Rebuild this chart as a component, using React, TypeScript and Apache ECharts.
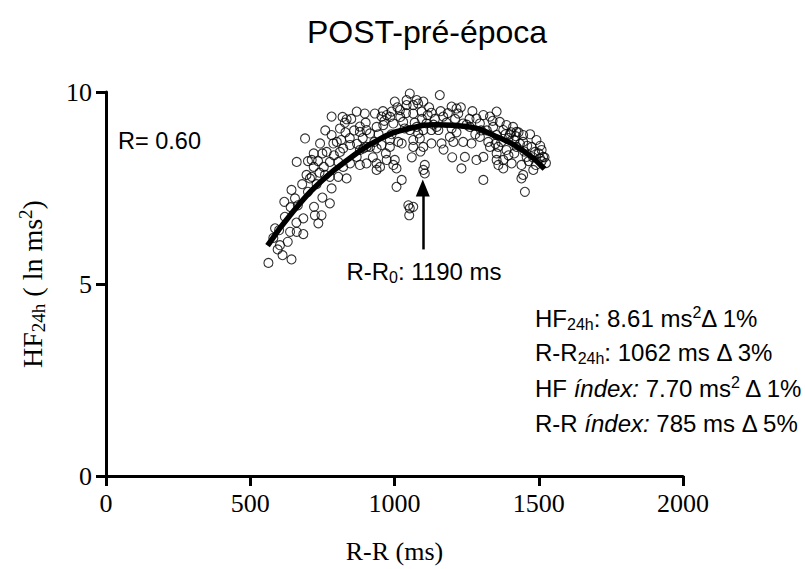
import React, { useEffect, useRef } from 'react';
import * as echarts from 'echarts';

const titleText = 'POST-pré-época';
const xTickValues = [0, 500, 1000, 1500, 2000];
const yTickValues = [0, 5, 10];

// Scatter points: [R-R (ms), HF24h (ln ms²)]
const scatterPoints: number[][] = [
  [563, 5.55], [603, 6.01], [612, 5.75], [643, 5.64], [586, 6.45], [638, 6.36], [661, 6.36], [684, 6.3],
  [684, 6.71], [643, 7.45], [655, 7.23], [618, 7.14], [721, 7.01], [724, 6.79], [736, 6.58], [747, 6.79],
  [776, 7.1], [707, 7.75], [695, 7.84], [713, 7.79], [661, 8.18], [713, 8.23], [690, 8.79], [742, 8.66],
  [782, 8.88], [834, 9.29], [782, 9.36], [828, 9.2], [811, 9.05], [788, 8.66], [765, 8.44], [776, 8.18],
  [805, 8.18], [822, 8.05], [834, 7.75], [782, 7.49], [776, 7.79], [805, 7.79], [759, 7.84], [846, 8.14],
  [869, 8.31], [880, 8.49], [903, 8.57], [880, 8.1], [903, 8.14], [938, 8.14], [938, 7.97], [973, 8.23],
  [1001, 8.23], [1007, 8.01], [996, 8.1], [869, 9.49], [897, 9.44], [932, 9.44], [955, 9.36], [973, 9.4],
  [990, 9.49], [1019, 9.53], [1001, 9.75], [1042, 9.79], [1053, 9.96], [1065, 9.66], [1082, 9.7], [1100, 9.75],
  [1094, 9.49], [1128, 9.46], [1157, 9.92], [1030, 9.22], [996, 9.18], [961, 9.14], [938, 9.09], [903, 9.01],
  [880, 8.96], [915, 8.92], [984, 8.75], [1013, 8.7], [1025, 8.66], [984, 8.57], [955, 8.62], [938, 8.53],
  [915, 8.57], [892, 8.53], [846, 8.62], [822, 8.53], [811, 8.44], [1065, 8.75], [1065, 8.57], [1088, 8.79],
  [1082, 8.92], [1100, 9.01], [1128, 9.01], [1146, 9.09], [1100, 8.57], [1128, 8.66], [1163, 8.66], [1204, 8.7],
  [1238, 8.7], [1267, 8.66], [1192, 8.83], [1152, 9.01], [1198, 9.62], [1215, 9.57], [1221, 9.44], [1238, 9.18],
  [1261, 9.09], [1284, 9.31], [1296, 9.18], [1331, 9.36], [1354, 9.49], [1365, 9.22], [1388, 9.14], [1411, 9.09],
  [1423, 8.96], [1446, 8.88], [1446, 8.7], [1475, 8.57], [1492, 8.75], [1510, 8.49], [1515, 8.31], [1481, 7.97],
  [1446, 7.84], [1440, 7.75], [1452, 7.4], [1377, 8.01], [1377, 8.23], [1406, 8.14], [1354, 8.23], [1354, 8.4],
  [1308, 8.31], [1331, 8.57], [1296, 8.83], [1354, 8.88], [1308, 7.71], [1244, 8.31], [1232, 8.01], [1100, 7.97],
  [1105, 8.1], [1105, 7.88], [1007, 7.53], [1025, 7.71], [1048, 7.05], [1053, 6.97], [1065, 7.01], [1051, 6.79],
  [1065, 9.44], [1042, 9.66], [1077, 9.79], [1111, 9.18], [1169, 9.36], [1053, 9.01], [1077, 9.09], [1377, 9.01],
  [1342, 9.09], [1325, 8.7], [1423, 8.57], [1458, 8.31], [1487, 8.44], [1504, 8.27], [1284, 8.23], [1359, 8.57],
  [1388, 8.49], [1308, 9.4], [1198, 9.05], [1400, 8.9], [1415, 8.75], [1430, 8.95], [1395, 8.8], [1460, 8.6],
  [1500, 8.4], [1510, 8.2], [1480, 8.3], [960, 9.5], [1010, 9.6], [1040, 9.45], [880, 9.1], [850, 9.3],
  [900, 9.2], [760, 9.0], [800, 8.7], [830, 8.95], [750, 8.4], [700, 8.2], [720, 8.05], [740, 7.9],
  [680, 7.6], [640, 7.0], [620, 6.75], [600, 6.4], [595, 5.9], [580, 6.2], [1120, 9.6], [1140, 9.3],
  [1180, 9.2], [1230, 9.6], [1260, 9.3], [1280, 8.9], [1320, 9.0], [1350, 8.65], [1360, 8.1], [1440, 8.1],
  [1170, 8.5], [1200, 8.3], [1060, 8.3], [1090, 8.45], [970, 8.4], [930, 8.7], [1520, 8.3], [1470, 8.9],
  [820, 9.35], [860, 9.0], [890, 8.8], [945, 8.9], [965, 9.25], [985, 9.35], [1020, 9.35], [1035, 9.05],
  [1070, 9.2], [1095, 9.3], [1115, 9.4], [1135, 9.15], [1160, 9.5], [1185, 9.45], [1210, 9.3], [1250, 9.15],
  [1270, 9.5], [1300, 9.0], [1340, 9.25], [1370, 8.7], [1385, 8.9], [1405, 8.95], [1420, 8.85], [1435, 8.65],
  [1450, 8.45], [1465, 8.2], [1490, 8.1], [1505, 8.6], [1525, 8.15], [1395, 8.35], [1415, 8.4], [720, 8.4],
  [735, 8.2], [755, 8.05], [790, 8.35], [815, 8.75], [845, 8.8], [870, 8.65], [925, 8.3], [950, 8.05],
  [665, 7.05], [700, 7.4], [730, 7.6], [750, 7.25], [630, 6.1], [660, 6.6], [990, 8.9], [1215, 8.95],
];

// Fitted curve
const fitRR = [560, 650, 750, 850, 950, 1050, 1150, 1250, 1350, 1450, 1520];
const fitHF = [6.0, 6.9, 7.7, 8.3, 8.78, 9.05, 9.15, 9.1, 8.85, 8.45, 8.0];

// Arrow marking R-R0
const arrowRR = 1098;
const arrowFromHF = 5.9;
const arrowToHF = 7.5;

const annotationLines = [
  '{b|HF}{s|24h}{b|: 8.61 ms}{p|2}{b|Δ 1%}',
  '{b|R-R}{s|24h}{b|: 1062 ms Δ 3%}',
  '{b|HF }{i|índex:}{b| 7.70 ms}{p|2}{b| Δ 1%}',
  '{b|R-R }{i|índex:}{b| 785 ms Δ 5%}',
];
const rLabel = 'R= 0.60';
const rr0Label = '{b|R-R}{s|0}{b|: 1190 ms}';

const SANS = '"Liberation Sans", Arial, sans-serif';
const SERIF = '"Liberation Serif", "Times New Roman", serif';

const richSans = {
  b: { fontSize: 24, fontFamily: SANS, color: '#000', lineHeight: 28 },
  s: { fontSize: 16, fontFamily: SANS, color: '#000', lineHeight: 16, verticalAlign: 'bottom' },
  p: { fontSize: 16, fontFamily: SANS, color: '#000', lineHeight: 16, verticalAlign: 'top' },
  i: { fontSize: 24, fontFamily: SANS, color: '#000', lineHeight: 28, fontStyle: 'italic' },
};

export default function App() {
  const ref = useRef<HTMLDivElement>(null);
  useEffect(() => {
    if (!ref.current) return;
    const chart = echarts.init(ref.current, null, { renderer: 'svg' });
    const lineTops = [318, 352, 388, 423];
    const option: any = {
      animation: false,
      backgroundColor: '#fff',
      grid: { left: 106, right: 122, top: 92, bottom: 93, containLabel: false },
      xAxis: {
        type: 'value',
        min: 0,
        max: 2000,
        interval: 500,
        name: 'R-R (ms)',
        nameLocation: 'middle',
        nameGap: 62,
        nameTextStyle: { fontFamily: SERIF, fontSize: 26, color: '#000' },
        axisLine: { show: true, lineStyle: { color: '#000', width: 3 } },
        axisTick: { show: true, length: 10, lineStyle: { color: '#000', width: 3 } },
        axisLabel: {
          fontFamily: SERIF, fontSize: 26, color: '#000', margin: 14,
          formatter: (v: number) => (xTickValues.includes(v) ? String(v) : ''),
        },
        splitLine: { show: false },
      },
      yAxis: {
        type: 'value',
        min: 0,
        max: 10,
        interval: 5,
        name: '{n|HF}{s|24h}{n|( ln ms}{p|2}{n|)}',
        nameLocation: 'middle',
        nameGap: 58,
        nameRotate: 90,
        nameTextStyle: {
          fontFamily: SERIF, fontSize: 28, color: '#000',
          rich: {
            n: { fontFamily: SERIF, fontSize: 28, color: '#000', lineHeight: 32 },
            s: { fontFamily: SERIF, fontSize: 19, color: '#000', lineHeight: 19, verticalAlign: 'bottom', padding: [0, 7, 0, 0] },
            p: { fontFamily: SERIF, fontSize: 19, color: '#000', lineHeight: 19, verticalAlign: 'top' },
          },
        },
        axisLine: { show: true, lineStyle: { color: '#000', width: 3 } },
        axisTick: { show: true, length: 10, lineStyle: { color: '#000', width: 3 } },
        axisLabel: {
          fontFamily: SERIF, fontSize: 26, color: '#000', margin: 14,
          formatter: (v: number) => (yTickValues.includes(v) ? String(v) : ''),
        },
        splitLine: { show: false },
      },
      series: [
        {
          type: 'scatter',
          data: scatterPoints,
          symbol: 'circle',
          symbolSize: 9,
          itemStyle: { color: 'rgba(255,255,255,0)', borderColor: '#000', borderWidth: 1.1 },
          z: 2,
        },
        {
          type: 'line',
          data: fitRR.map((x, i) => [x, fitHF[i]]),
          smooth: true,
          showSymbol: false,
          lineStyle: { color: '#000', width: 5.5 },
          z: 3,
          markLine: {
            silent: true,
            symbol: ['none', 'triangle'],
            symbolSize: [14, 17],
            label: { show: false },
            lineStyle: { color: '#000', width: 2.5, type: 'solid' },
            data: [[{ coord: [arrowRR, arrowFromHF] }, { coord: [arrowRR, arrowToHF] }]],
          },
        },
      ],
      graphic: [
        {
          type: 'text', x: 427, y: 32,
          style: { text: titleText, font: `32px ${SANS}`, fill: '#000', align: 'center', verticalAlign: 'middle' },
        },
        {
          type: 'text', x: 118, y: 141,
          style: { text: rLabel, font: `23.5px ${SANS}`, fill: '#000', align: 'left', verticalAlign: 'middle' },
        },
        {
          type: 'text', x: 424, y: 271,
          style: { text: rr0Label, rich: richSans, align: 'center', verticalAlign: 'middle' },
        },
        ...annotationLines.map((t, i) => ({
          type: 'text', x: 535, y: lineTops[i],
          style: { text: t, rich: richSans, align: 'left', verticalAlign: 'middle' },
        })),
      ],
    };
    chart.setOption(option);
    return () => chart.dispose();
  }, []);
  return <div ref={ref} style={{ position: 'fixed', left: 0, top: 0, width: 805, height: 569 }} />;
}
